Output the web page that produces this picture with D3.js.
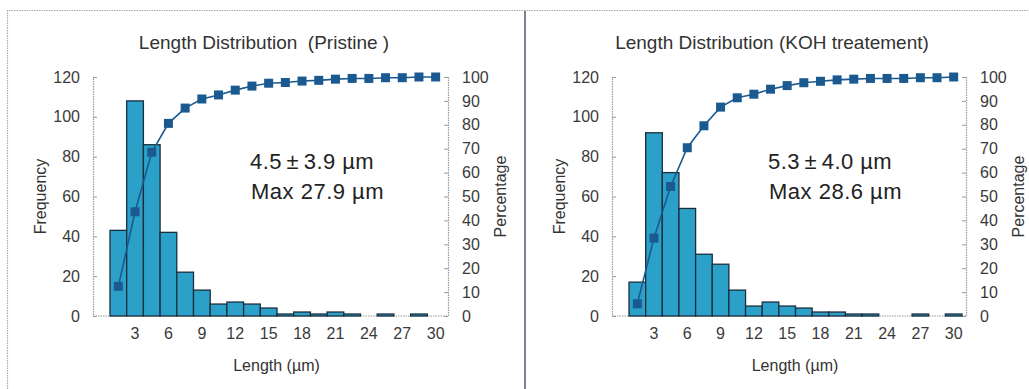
<!DOCTYPE html>
<html>
<head>
<meta charset="utf-8">
<script src="https://cdn.jsdelivr.net/npm/d3@7"></script>
<style>
  body { margin: 0; background: #fff; }
  svg { display: block; font-family: Arial, "Liberation Sans", sans-serif; }
</style>
</head>
<body>
<div id="chart"></div>
<script>
const width = 1029;
const height = 389;

// bin labels (1.5 µm bins), only every second one is printed on the axis
const bins = ["1.5", "3", "4.5", "6", "7.5", "9", "10.5", "12", "13.5", "15",
  "16.5", "18", "19.5", "21", "22.5", "24", "25.5", "27", "28.5", "30"];
const shownTicks = ["3", "6", "9", "12", "15", "18", "21", "24", "27", "30"];
const freqTicks = [0, 20, 40, 60, 80, 100, 120];
const pctTicks = [0, 10, 20, 30, 40, 50, 60, 70, 80, 90, 100];

// Pristine
const pristineFreq = [43, 108, 86, 42, 22, 13, 6, 7, 6, 4, 1, 2, 1, 2, 1, 0, 1, 0, 1, 0];
const pristinePct = [12.4, 43.6, 68.5, 80.6, 87.0, 90.8, 92.5, 94.5, 96.2, 97.4,
  97.7, 98.3, 98.6, 99.1, 99.4, 99.4, 99.7, 99.7, 100, 100];

// KOH treatment
const kohFreq = [17, 92, 72, 54, 31, 26, 13, 5, 7, 5, 4, 2, 2, 1, 1, 0, 0, 1, 0, 1];
const kohPct = [5.1, 32.6, 54.2, 70.4, 79.6, 87.4, 91.3, 92.8, 94.9, 96.4,
  97.6, 98.2, 98.8, 99.1, 99.4, 99.4, 99.4, 99.7, 99.7, 100];

const svg = d3.select("#chart").append("svg")
  .attr("width", width)
  .attr("height", height);

// outer frame (dotted) and the divider between the two panels
svg.append("path")
  .attr("d", `M7.5,${height} V10.5 H${width}`)
  .attr("fill", "none")
  .attr("stroke", "#aaa")
  .attr("stroke-width", 1.2)
  .attr("stroke-dasharray", "1.5,1");

svg.append("line")
  .attr("x1", 525).attr("x2", 525)
  .attr("y1", 11).attr("y2", height)
  .attr("stroke", "#5a6270")
  .attr("stroke-width", 1.6);

const barFill = "#2ba1c9";
const barStroke = "#1b2d3c";
const lineColor = "#1b5a90";
const textColor = "#333";

function drawPanel(p) {
  const g = svg.append("g");
  const top = 77, bottom = 316;

  const x = d3.scaleBand().domain(bins)
    .range([p.left + 17, p.right - 4]).padding(0);
  const y = d3.scaleLinear().domain([0, 120]).range([bottom, top]);
  const y2 = d3.scaleLinear().domain([0, 100]).range([bottom, top]);

  // axes
  const leftAxis = g.append("g")
    .attr("transform", `translate(${p.left},0)`)
    .call(d3.axisLeft(y).tickValues(freqTicks).tickSize(-4).tickPadding(13));
  const rightAxis = g.append("g")
    .attr("transform", `translate(${p.right},0)`)
    .call(d3.axisRight(y2).tickValues(pctTicks).tickSize(-4).tickPadding(14));
  const bottomAxis = g.append("g")
    .attr("transform", `translate(0,${bottom})`)
    .call(d3.axisBottom(x).tickValues(shownTicks).tickSize(0).tickPadding(12));

  [leftAxis, rightAxis, bottomAxis].forEach(a => {
    a.select(".domain")
      .attr("stroke", "#9a9a9a")
      .attr("stroke-width", 1.2)
      .attr("stroke-dasharray", "1.5,1");
    a.selectAll(".tick line").attr("stroke", "#9a9a9a");
    a.selectAll("text")
      .attr("fill", "#3a3a3a")
      .style("font-size", "16px");
  });
  bottomAxis.select(".domain").attr("d", `M${p.left},0H${p.right}`);

  // bars
  g.selectAll(".bar").data(p.freq)
    .join("rect")
    .attr("class", "bar")
    .attr("x", (d, i) => x(bins[i]))
    .attr("y", d => y(d))
    .attr("width", x.bandwidth())
    .attr("height", d => bottom - y(d))
    .attr("fill", barFill)
    .attr("stroke", barStroke)
    .attr("stroke-width", 1.3);

  // cumulative line
  const line = d3.line()
    .x((d, i) => x(bins[i]) + x.bandwidth() / 2)
    .y(d => y2(d));

  g.append("path")
    .datum(p.pct)
    .attr("d", line)
    .attr("fill", "none")
    .attr("stroke", lineColor)
    .attr("stroke-width", 1.6);

  g.selectAll(".marker").data(p.pct)
    .join("rect")
    .attr("class", "marker")
    .attr("x", (d, i) => x(bins[i]) + x.bandwidth() / 2 - 4.5)
    .attr("y", d => y2(d) - 4.5)
    .attr("width", 9)
    .attr("height", 9)
    .attr("fill", lineColor);

  // titles
  g.append("text")
    .attr("x", p.titleX).attr("y", 49)
    .attr("text-anchor", "middle")
    .attr("fill", textColor)
    .style("font-size", "19px")
    .style("white-space", "pre")
    .text(p.title);

  g.append("text")
    .attr("transform", `translate(${p.left - 47},${(top + bottom) / 2}) rotate(-90)`)
    .attr("text-anchor", "middle")
    .attr("fill", textColor)
    .style("font-size", "16px")
    .text("Frequency");

  g.append("text")
    .attr("transform", `translate(${p.right + 58},${(top + bottom) / 2}) rotate(-90)`)
    .attr("text-anchor", "middle")
    .attr("fill", textColor)
    .style("font-size", "16px")
    .text("Percentage");

  g.append("text")
    .attr("x", (p.left + p.right) / 2 + 6).attr("y", 371)
    .attr("text-anchor", "middle")
    .attr("fill", textColor)
    .style("font-size", "16px")
    .text("Length (\u00b5m)");

  // mean / max annotation
  g.append("text")
    .attr("x", p.left + p.noteDx).attr("y", 169)
    .attr("fill", "#222")
    .style("font-size", "22px")
    .style("letter-spacing", "0.4px")
    .text(p.mean);
  g.append("text")
    .attr("x", p.left + p.noteDx + 1).attr("y", 199)
    .attr("fill", "#222")
    .style("font-size", "22px")
    .style("letter-spacing", "0.5px")
    .text(p.max);
}

drawPanel({
  left: 93, right: 448, titleX: 264,
  title: "Length Distribution  (Pristine )",
  freq: pristineFreq, pct: pristinePct,
  noteDx: 157, mean: "4.5\u2009\u00b1\u20093.9 \u00b5m", max: "Max 27.9 \u00b5m"
});

drawPanel({
  left: 612, right: 966, titleX: 772,
  title: "Length Distribution (KOH treatement)",
  freq: kohFreq, pct: kohPct,
  noteDx: 156, mean: "5.3\u2009\u00b1\u20094.0 \u00b5m", max: "Max 28.6 \u00b5m"
});
</script>
</body>
</html>
